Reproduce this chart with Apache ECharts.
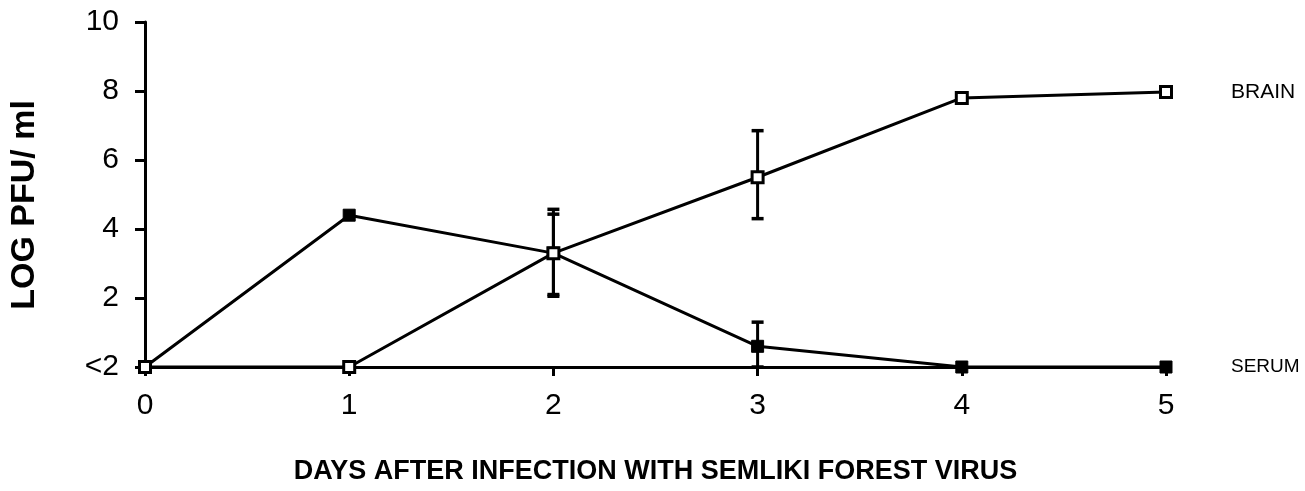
<!DOCTYPE html>
<html>
<head>
<meta charset="utf-8">
<script src="https://cdn.jsdelivr.net/npm/echarts@6/dist/echarts.min.js"></script>
<style>
html,body{margin:0;padding:0;background:#fff;}
#chart{width:1305px;height:491px;}
</style>
</head>
<body>
<div id="chart"></div>
<script>
// ---- data ----
const days = [0, 1, 2, 3, 4, 5];
const brain = [0, 0, 3.3, 5.5, 7.8, 7.97];
const serum = [0, 4.4, 3.3, 0.6, 0, 0];
const brainErrDays = [2, 3];
const brainErrLow = [2.05, 4.3];
const brainErrHigh = [4.57, 6.85];
const serumErrDays = [2, 3];
const serumErrLow = [2.1, 0];
const serumErrHigh = [4.43, 1.3];
const yTickLabels = {0: '<2', 2: '2', 4: '4', 6: '6', 8: '8', 10: '10'};
const seriesNames = ['BRAIN', 'SERUM'];
const xTitle = 'DAYS AFTER INFECTION WITH SEMLIKI FOREST VIRUS';
const yTitle = 'LOG PFU/ ml';

const font = "'Liberation Sans', Arial, sans-serif";
const chart = echarts.init(document.getElementById('chart'), null, {renderer: 'canvas'});

function pairs(xs, ys) { return xs.map((x, i) => [x, ys[i]]); }
function errData(xs, lo, hi) { return xs.map((x, i) => [x, lo[i], hi[i]]); }

function errRender(params, api) {
  const x = api.value(0);
  const lo = api.coord([x, api.value(1)]);
  const hi = api.coord([x, api.value(2)]);
  const cap = 6;
  return {
    type: 'group',
    children: [
      {type: 'line', shape: {x1: lo[0], y1: lo[1], x2: hi[0], y2: hi[1]}, style: {stroke: '#000', lineWidth: 3}},
      {type: 'line', shape: {x1: hi[0] - cap, y1: hi[1], x2: hi[0] + cap, y2: hi[1]}, style: {stroke: '#000', lineWidth: 3.5}},
      {type: 'line', shape: {x1: lo[0] - cap, y1: lo[1], x2: lo[0] + cap, y2: lo[1]}, style: {stroke: '#000', lineWidth: 3.5}}
    ]
  };
}

const option = {
  animation: false,
  backgroundColor: '#fff',
  grid: {left: 145, right: 139, top: 22, bottom: 124, containLabel: false},
  xAxis: {
    type: 'value', min: 0, max: 5, interval: 1,
    name: xTitle, nameLocation: 'middle', nameGap: 91,
    nameTextStyle: {fontFamily: font, fontWeight: 'bold', fontSize: 27, color: '#000'},
    axisLine: {lineStyle: {color: '#000', width: 3}},
    axisTick: {show: true, length: 9, lineStyle: {color: '#000', width: 3}},
    axisLabel: {color: '#000', fontFamily: font, fontSize: 30, margin: 24},
    splitLine: {show: false}
  },
  yAxis: {
    type: 'value', min: 0, max: 10, interval: 2,
    axisLine: {show: true, lineStyle: {color: '#000', width: 3}},
    axisTick: {show: true, length: 10, lineStyle: {color: '#000', width: 3}},
    axisLabel: {color: '#000', fontFamily: font, fontSize: 30, margin: 26,
      formatter: v => yTickLabels[v] !== undefined ? yTickLabels[v] : String(v)},
    splitLine: {show: false}
  },
  graphic: [{
    type: 'text', x: 25, y: 205, rotation: Math.PI / 2,
    style: {text: yTitle, fill: '#000', font: "bold 34px 'Liberation Sans', Arial, sans-serif",
      align: 'center', verticalAlign: 'middle'}
  }],
  series: [
    {
      name: seriesNames[1], type: 'line', data: pairs(days, serum), z: 3,
      symbol: 'rect', symbolSize: 12,
      lineStyle: {color: '#000', width: 3},
      itemStyle: {color: '#000', borderColor: '#000', borderWidth: 1},
      endLabel: {show: true, formatter: seriesNames[1], distance: 65, color: '#000',
        fontFamily: font, fontSize: 19}
    },
    {
      name: seriesNames[0], type: 'line', data: pairs(days, brain), z: 5,
      symbol: 'rect', symbolSize: 11,
      lineStyle: {color: '#000', width: 3},
      itemStyle: {color: '#fff', borderColor: '#000', borderWidth: 3},
      endLabel: {show: true, formatter: seriesNames[0], distance: 65, color: '#000',
        fontFamily: font, fontSize: 21}
    },
    {type: 'custom', renderItem: errRender, data: errData(brainErrDays, brainErrLow, brainErrHigh), z: 2, encode: {x: 0, y: [1, 2]}},
    {type: 'custom', renderItem: errRender, data: errData(serumErrDays, serumErrLow, serumErrHigh), z: 2, encode: {x: 0, y: [1, 2]}}
  ]
};
chart.setOption(option);
</script>
</body>
</html>
